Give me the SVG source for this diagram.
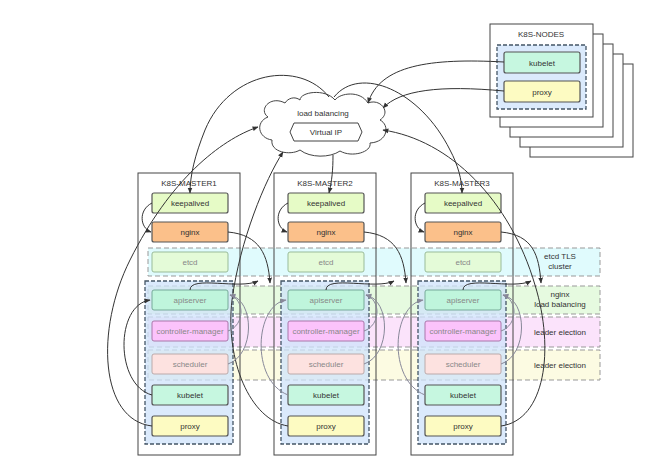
<svg xmlns="http://www.w3.org/2000/svg" width="650" height="468" viewBox="0 0 650 468">
<style>
text{font-family:"Liberation Sans",Arial,sans-serif;font-size:8px;text-anchor:middle;fill:#333}
.box{fill:#fff;stroke:#444;stroke-width:1}
.c{stroke:#555;stroke-width:1.2}
.band{stroke:#999;stroke-dasharray:5,3;stroke-width:1}
.blue{fill:#cfe3fb;fill-opacity:.75;stroke:#456;stroke-width:1.3;stroke-dasharray:4,2}
.conn path{fill:none;stroke:#333;stroke-width:1}
.conn path.g{stroke:#889}
.dim{fill:#888}
</style>
<defs>
<marker id="a" viewBox="0 0 10 10" refX="9" refY="5" markerWidth="6" markerHeight="6" orient="auto"><path d="M0,1L10,5L0,9z" fill="#333"/></marker>
<marker id="ag" viewBox="0 0 10 10" refX="9" refY="5" markerWidth="6" markerHeight="6" orient="auto"><path d="M0,1L10,5L0,9z" fill="#889"/></marker>
</defs>
<rect width="650" height="468" fill="#fff"/>
<g id="nodes">
<rect class="box" x="530" y="64" width="103" height="93"/>
<rect class="box" x="520" y="54" width="103" height="93"/>
<rect class="box" x="510" y="44" width="103" height="93"/>
<rect class="box" x="500" y="34" width="103" height="93"/>
<rect class="box" x="490" y="24" width="103" height="93"/>
<text x="541" y="37">K8S-NODES</text>
<rect class="blue" x="497" y="45" width="89" height="64"/>
<rect class="c" x="504" y="52" width="76" height="21" rx="2" fill="#c6f7e0"/><text x="542" y="66">kubelet</text>
<rect class="c" x="504" y="81" width="76" height="21" rx="2" fill="#fdfbc2"/><text x="542" y="95">proxy</text>
</g>
<g id="lb">
<path d="M285,103 C270,95 258,110 268,117 C255,122 258,138 272,140 C270,152 290,156 300,150 C310,158 330,158 340,151 C352,158 372,152 370,143 C388,142 390,125 380,120 C392,112 380,98 368,103 C360,90 340,93 335,100 C325,88 300,92 300,100 C295,96 288,98 285,103 Z" fill="#fff" stroke="#444"/>
<text x="323" y="116">load balancing</text>
<path d="M294,123 L358,123 L362,132 L358,141 L294,141 L290,132 Z" fill="#fff" stroke="#444"/>
<text x="326" y="135">Virtual IP</text>
</g>
<g id="bands">
<rect class="band" x="148" y="248" width="452" height="28" fill="#e0fbfd"/>
<rect class="band" x="148" y="286" width="452" height="28" fill="#e6fae0"/>
<rect class="band" x="148" y="317" width="452" height="30" fill="#fbe3fb"/>
<rect class="band" x="148" y="350" width="452" height="30" fill="#fcfbe2"/>
<text x="560" y="259">etcd TLS</text><text x="560" y="269">cluster</text>
<text x="560" y="297">nginx</text><text x="560" y="307">load balancing</text>
<text x="560" y="335">leader election</text>
<text x="560" y="368">leader election</text>
</g>
<g id="master1">
<rect x="138" y="173" width="102" height="282" fill="none" stroke="#444"/>
<text x="189" y="186">K8S-MASTER1</text>
<rect class="blue" x="145" y="281" width="88" height="163"/>
<rect class="c" x="152" y="193" width="76" height="20" rx="2" fill="#e6fbc6"/><text x="190" y="206">keepalived</text>
<rect class="c" x="152" y="222" width="76" height="20" rx="2" fill="#fbc08a"/><text x="190" y="235">nginx</text>
<rect x="152" y="252" width="76" height="20" rx="2" fill="#e4fbd8" stroke="#9b9"/><text class="dim" x="190" y="265">etcd</text>
<rect x="152" y="290" width="76" height="20" rx="2" fill="#bff5dc" stroke="#7a9"/><text class="dim" x="190" y="303">apiserver</text>
<rect x="152" y="321" width="76" height="20" rx="2" fill="#fbc3fb" stroke="#a7a"/><text class="dim" x="190" y="334">controller-manager</text>
<rect x="152" y="354" width="76" height="20" rx="2" fill="#fde2e0" stroke="#baa"/><text class="dim" x="190" y="367">scheduler</text>
<rect class="c" x="152" y="385" width="76" height="20" rx="2" fill="#c6f7e0"/><text x="190" y="398">kubelet</text>
<rect class="c" x="152" y="416" width="76" height="20" rx="2" fill="#fdfbc2"/><text x="190" y="429">proxy</text>
</g>
<g id="master2" transform="translate(136,0)">
<rect x="138" y="173" width="102" height="282" fill="none" stroke="#444"/>
<text x="189" y="186">K8S-MASTER2</text>
<rect class="blue" x="145" y="281" width="88" height="163"/>
<rect class="c" x="152" y="193" width="76" height="20" rx="2" fill="#e6fbc6"/><text x="190" y="206">keepalived</text>
<rect class="c" x="152" y="222" width="76" height="20" rx="2" fill="#fbc08a"/><text x="190" y="235">nginx</text>
<rect x="152" y="252" width="76" height="20" rx="2" fill="#e4fbd8" stroke="#9b9"/><text class="dim" x="190" y="265">etcd</text>
<rect x="152" y="290" width="76" height="20" rx="2" fill="#bff5dc" stroke="#7a9"/><text class="dim" x="190" y="303">apiserver</text>
<rect x="152" y="321" width="76" height="20" rx="2" fill="#fbc3fb" stroke="#a7a"/><text class="dim" x="190" y="334">controller-manager</text>
<rect x="152" y="354" width="76" height="20" rx="2" fill="#fde2e0" stroke="#baa"/><text class="dim" x="190" y="367">scheduler</text>
<rect class="c" x="152" y="385" width="76" height="20" rx="2" fill="#c6f7e0"/><text x="190" y="398">kubelet</text>
<rect class="c" x="152" y="416" width="76" height="20" rx="2" fill="#fdfbc2"/><text x="190" y="429">proxy</text>
</g>
<g id="master3" transform="translate(273,0)">
<rect x="138" y="173" width="102" height="282" fill="none" stroke="#444"/>
<text x="189" y="186">K8S-MASTER3</text>
<rect class="blue" x="145" y="281" width="88" height="163"/>
<rect class="c" x="152" y="193" width="76" height="20" rx="2" fill="#e6fbc6"/><text x="190" y="206">keepalived</text>
<rect class="c" x="152" y="222" width="76" height="20" rx="2" fill="#fbc08a"/><text x="190" y="235">nginx</text>
<rect x="152" y="252" width="76" height="20" rx="2" fill="#e4fbd8" stroke="#9b9"/><text class="dim" x="190" y="265">etcd</text>
<rect x="152" y="290" width="76" height="20" rx="2" fill="#bff5dc" stroke="#7a9"/><text class="dim" x="190" y="303">apiserver</text>
<rect x="152" y="321" width="76" height="20" rx="2" fill="#fbc3fb" stroke="#a7a"/><text class="dim" x="190" y="334">controller-manager</text>
<rect x="152" y="354" width="76" height="20" rx="2" fill="#fde2e0" stroke="#baa"/><text class="dim" x="190" y="367">scheduler</text>
<rect class="c" x="152" y="385" width="76" height="20" rx="2" fill="#c6f7e0"/><text x="190" y="398">kubelet</text>
<rect class="c" x="152" y="416" width="76" height="20" rx="2" fill="#fdfbc2"/><text x="190" y="429">proxy</text>
</g>
<g id="connectors" class="conn">
<path d="M504,62 C430,58 380,65 368,103" marker-end="url(#a)"/>
<path d="M504,91 C440,85 400,90 383,108" marker-end="url(#a)"/>
<path d="M333,155 C333,170 332,180 329,193" marker-end="url(#a)"/>
<path d="M329,97 C300,60 230,70 205,130 C195,155 190,175 190,193" marker-end="url(#a)"/>
<path d="M334,97 C360,65 420,90 450,150 C458,165 462,180 462,193" marker-end="url(#a)"/>
<path d="M152,426 C100,420 95,330 130,260 C170,180 220,140 258,127" marker-end="url(#a)"/>
<path d="M288,426 C250,420 225,360 232,300 C240,240 265,180 283,152" marker-end="url(#a)"/>
<path d="M501,426 C545,420 555,350 535,285 C510,200 450,140 383,130" marker-end="url(#a)"/>
<path d="M152,203 C138,210 140,228 151,232" marker-end="url(#a)"/>
<path d="M288,203 C274,210 276,228 287,232" marker-end="url(#a)"/>
<path d="M425,203 C411,210 413,228 424,232" marker-end="url(#a)"/>
<path d="M228,232 C260,235 268,255 270,283" marker-end="url(#a)"/>
<path d="M364,232 C396,235 404,255 406,283" marker-end="url(#a)"/>
<path d="M501,232 C533,235 539,255 541,283" marker-end="url(#a)"/>
<path d="M190,290 C190,275 240,290 258,281" marker-end="url(#a)"/>
<path d="M326,290 C326,275 376,290 394,281" marker-end="url(#a)"/>
<path d="M463,290 C463,275 513,290 531,281" marker-end="url(#a)"/>
<path d="M152,395 C115,385 115,305 150,300" marker-end="url(#a)"/>
<path class="g" d="M228,331 C245,325 245,300 230,295" marker-end="url(#ag)"/>
<path class="g" d="M228,364 C255,355 255,300 230,295" marker-end="url(#ag)"/>
<path class="g" d="M364,331 C381,325 381,300 366,295" marker-end="url(#ag)"/>
<path class="g" d="M364,364 C391,355 391,300 366,295" marker-end="url(#ag)"/>
<path class="g" d="M501,331 C518,325 518,300 503,295" marker-end="url(#ag)"/>
<path class="g" d="M501,364 C528,355 528,300 503,295" marker-end="url(#ag)"/>
<path class="g" d="M288,395 C250,380 255,305 286,300" marker-end="url(#ag)"/>
<path class="g" d="M425,395 C387,380 392,305 423,300" marker-end="url(#ag)"/>
</g>
</svg>
